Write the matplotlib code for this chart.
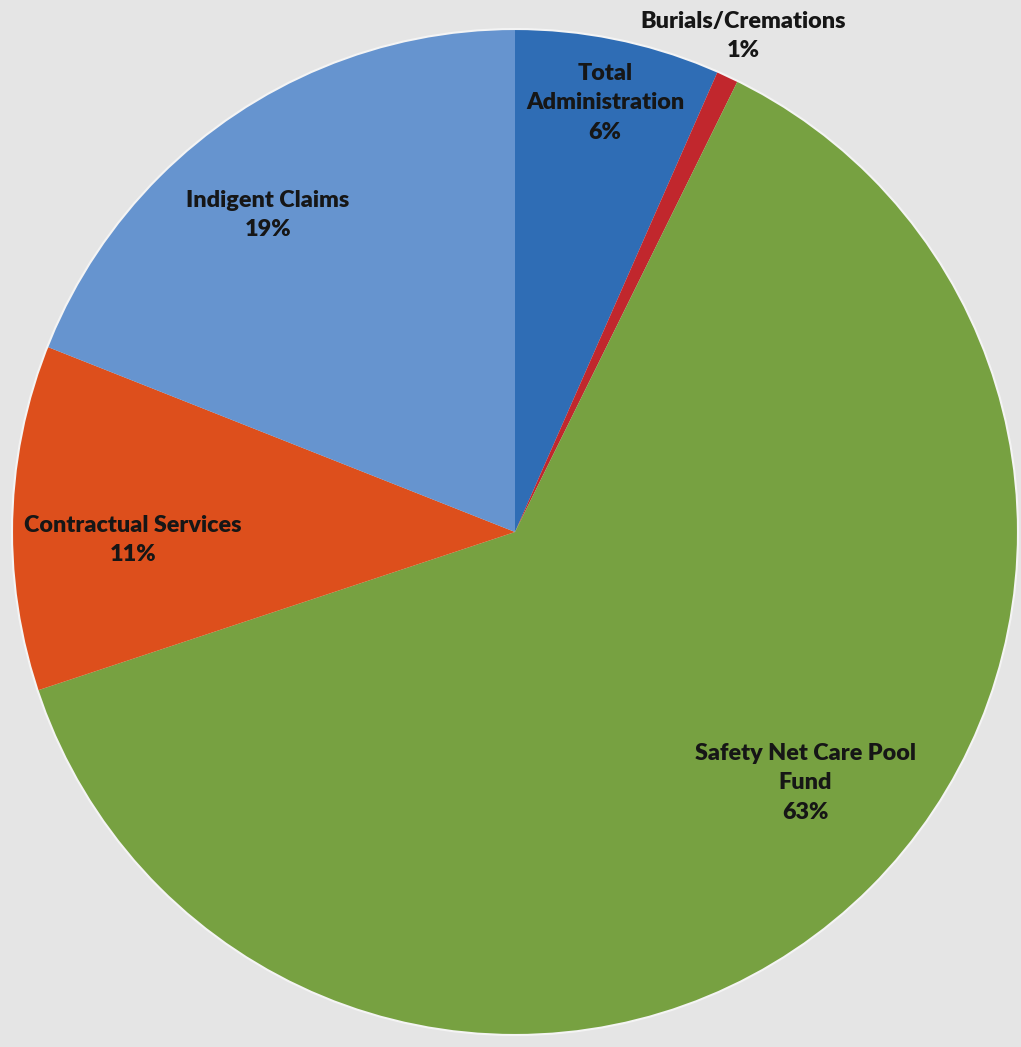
import matplotlib.pyplot as plt
from matplotlib.patches import Circle

# slices clockwise from 12 o'clock
names = ["Total\nAdministration", "Burials/Cremations", "Safety Net Care Pool\nFund",
         "Contractual Services", "Indigent Claims"]
shares = [6.6, 0.7, 62.6, 11.1, 19.0]
pct_labels = ["6%", "1%", "63%", "11%", "19%"]
colors = ["#2F6DB5", "#C1272D", "#77A141", "#DD4F1C", "#6694CF"]

# where each label sits (pie radius = 1)
label_xy = [(0.179, 0.853), (0.453, 0.986), (0.577, -0.499),
            (-0.759, -0.016), (-0.491, 0.630)]

fig = plt.figure(figsize=(10.21, 10.47), dpi=100)
fig.patch.set_facecolor("#E5E5E5")
ax = fig.add_axes([0, 0, 1, 1])
ax.set_facecolor("#E5E5E5")

ax.pie(shares, colors=colors, startangle=90, counterclock=False,
       radius=1.0, center=(0, 0), frame=True,
       wedgeprops=dict(linewidth=0, edgecolor="none"))
ax.add_patch(Circle((0, 0), 1.0, fill=False, edgecolor="#F4F4F4", linewidth=1.5))

for name, pct, (x, y) in zip(names, pct_labels, label_xy):
    ax.text(x, y, name + "\n" + pct, ha="center", va="center",
            fontsize=16.8, fontweight="heavy", family="Lato",
            color="#161616", linespacing=1.5)

# pixel layout: center at (515, 532), radius ~503 px
ax.set_xlim(-515 / 503, (1021 - 515) / 503)
ax.set_ylim(-(1047 - 532) / 503, 532 / 503)
ax.set_aspect("auto")
ax.axis("off")

fig.savefig("out.png", dpi=100, facecolor=fig.get_facecolor())
